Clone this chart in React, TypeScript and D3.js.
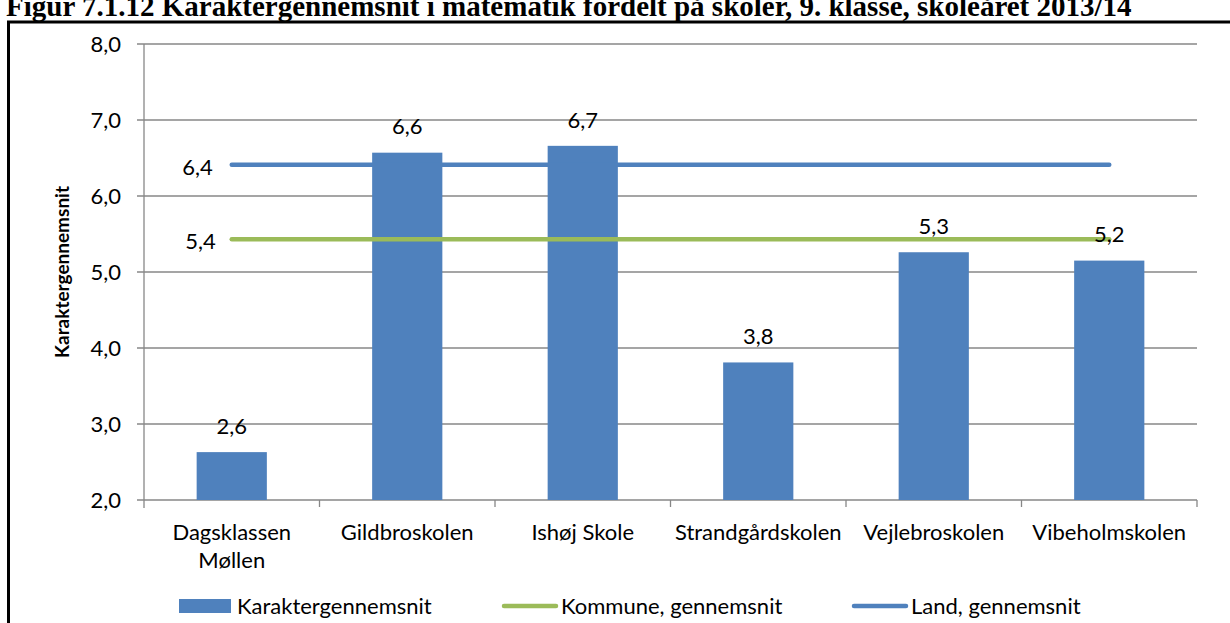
import { useMemo } from 'react';
import * as d3 from 'd3';

// Karaktergennemsnit i matematik, 9. klasse, skoleåret 2013/14
const schools = [
  ['Dagsklassen', 'Møllen'],
  ['Gildbroskolen'],
  ['Ishøj Skole'],
  ['Strandgårdskolen'],
  ['Vejlebroskolen'],
  ['Vibeholmskolen'],
];
const grades = [2.63, 6.57, 6.66, 3.81, 5.26, 5.15];
const kommune = 5.43;
const land = 6.41;
const yTicks = [2, 3, 4, 5, 6, 7, 8];

const W = 1230;
const H = 623;
const margin = { top: 44, right: 33, bottom: 123, left: 144 };
const BLUE = '#4F81BD';
const GREEN = '#9BBB59';
const GRID = '#878787';
const FONT = 'Lato, "Open Sans", sans-serif';
const FS = 22;

const fmt = (v: number) => v.toFixed(1).replace('.', ',');

export default function App() {
  const innerW = W - margin.left - margin.right;
  const innerH = H - margin.top - margin.bottom;

  const x = useMemo(
    () => d3.scaleBand<number>().domain(d3.range(schools.length)).range([0, innerW]).paddingInner(0).paddingOuter(0),
    [innerW]
  );
  const y = useMemo(() => d3.scaleLinear().domain([2, 8]).range([innerH, 0]), [innerH]);

  const barW = x.bandwidth() * 0.4;
  const cx = (i: number) => (x(i) as number) + x.bandwidth() / 2;
  const lineGen = d3.line<number>().x((_, i) => cx(i)).y((d) => y(d));

  return (
    <svg width={W} height={H} style={{ position: 'absolute', left: 0, top: 0, background: '#fff' }} fontFamily={FONT}>
      {/* title, cut off by the top of the page */}
      <text x={6} y={16} fontFamily='"Liberation Serif", serif' fontWeight="bold" fontSize={29} fill="#000">
        Figur 7.1.12 Karaktergennemsnit i matematik fordelt på skoler, 9. klasse, skoleåret 2013/14
      </text>
      {/* frame */}
      <path d={`M8.5,${H + 5} V22 H${W + 5}`} fill="none" stroke="#000" strokeWidth={3} />

      <g transform={`translate(${margin.left},${margin.top})`}>
        {/* grid + y ticks */}
        {yTicks.map((t) => (
          <g key={t} transform={`translate(0,${y(t)})`}>
            <line x1={-7} x2={innerW} stroke={GRID} strokeWidth={1.3} />
            <text x={-23} dy="0.35em" textAnchor="end" fontSize={FS} fill="#000">
              {fmt(t)}
            </text>
          </g>
        ))}
        {/* y axis */}
        <line x1={0} x2={0} y1={0} y2={innerH + 8} stroke={GRID} strokeWidth={1.3} />
        {/* x ticks */}
        {d3.range(1, schools.length + 1).map((i) => (
          <line key={i} x1={i * x.step()} x2={i * x.step()} y1={innerH} y2={innerH + 7} stroke={GRID} strokeWidth={1.3} />
        ))}

        {/* bars */}
        {grades.map((g, i) => (
          <rect key={i} x={cx(i) - barW / 2} y={y(g)} width={barW} height={innerH - y(g)} fill={BLUE} />
        ))}

        {/* average lines */}
        <path d={lineGen(schools.map(() => land)) || ''} fill="none" stroke={BLUE} strokeWidth={4.5} strokeLinecap="round" />
        <path d={lineGen(schools.map(() => kommune)) || ''} fill="none" stroke={GREEN} strokeWidth={4.5} strokeLinecap="round" />
        <text x={cx(0) - 19} y={y(land) + 2.5} dy="0.35em" textAnchor="end" fontSize={FS} fill="#000">{fmt(land)}</text>
        <text x={cx(0) - 16} y={y(kommune) + 1.5} dy="0.35em" textAnchor="end" fontSize={FS} fill="#000">{fmt(kommune)}</text>

        {/* bar labels */}
        {grades.map((g, i) => (
          <text key={i} x={cx(i)} y={y(g) - 26} dy="0.35em" textAnchor="middle" fontSize={FS} fill="#000">
            {fmt(g)}
          </text>
        ))}

        {/* category labels */}
        {schools.map((lines, i) => (
          <text key={i} x={cx(i)} y={innerH + 32} textAnchor="middle" fontSize={FS} fill="#000">
            {lines.map((l, j) => (
              <tspan key={j} x={cx(i)} dy={j === 0 ? '0.35em' : 28}>{l}</tspan>
            ))}
          </text>
        ))}

        {/* y axis title */}
        <text transform={`translate(${62 - margin.left},${innerH / 2}) rotate(-90)`} dy="0.35em" textAnchor="middle" fontSize={19} fontWeight="bold" fill="#000">
          Karaktergennemsnit
        </text>
      </g>

      {/* legend */}
      <g transform="translate(0,606)" fontSize={FS}>
        <rect x={179} y={-7} width={52} height={14} fill={BLUE} />
        <text x={237} dy="0.35em" fill="#000">Karaktergennemsnit</text>
        <line x1={504} x2={556} stroke={GREEN} strokeWidth={4.5} strokeLinecap="round" />
        <text x={561} dy="0.35em" fill="#000">Kommune, gennemsnit</text>
        <line x1={854} x2={906} stroke={BLUE} strokeWidth={4.5} strokeLinecap="round" />
        <text x={911} dy="0.35em" fill="#000">Land, gennemsnit</text>
      </g>
    </svg>
  );
}
